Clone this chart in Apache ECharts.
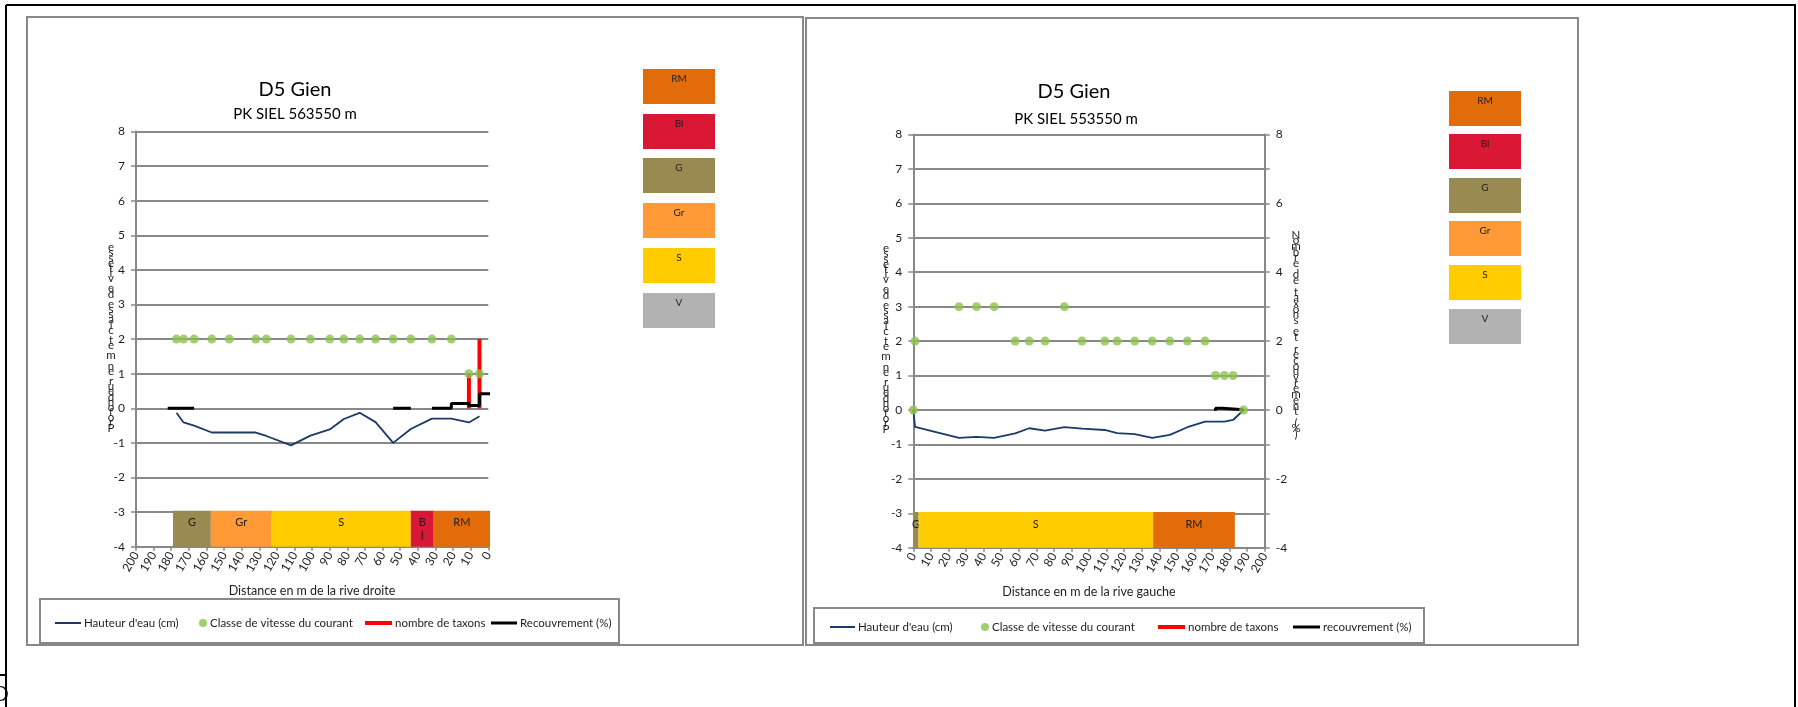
<!DOCTYPE html>
<html><head><meta charset="utf-8">
<script src="https://cdn.jsdelivr.net/npm/echarts@6/dist/echarts.min.js"></script>
<style>html,body{margin:0;padding:0;background:#fff;overflow:hidden}#c{width:1798px;height:707px}</style>
</head><body><div id="c"></div>
<script>
// ---------- DATA ----------
const chartTitles = ['D5 Gien', 'D5 Gien'];
const chartSubtitles = ['PK SIEL 563550 m', 'PK SIEL 553550 m'];
const xAxisNames = ['Distance en m de la rive droite', 'Distance en m de la rive gauche'];
const yAxisName = 'Profondeur en m et classe de vitesse';
const y2AxisName = 'Nombre de taxons et recouvrement (%)';
const seriesNames = ["Hauteur d'eau (cm)", 'Classe de vitesse du courant', 'nombre de taxons'];
const recouvrementNames = ['Recouvrement (%)', 'recouvrement (%)'];
const substrateNames = ['RM', 'Bl', 'G', 'Gr', 'S', 'V'];

// Left chart (rive droite)
const leftDist  = [177, 173, 167, 157, 147, 132, 126, 112, 101, 90, 82, 73, 64, 54, 44, 32, 21, 11, 5];
const leftDepth = [-0.13, -0.41, -0.5, -0.7, -0.7, -0.7, -0.8, -1.07, -0.79, -0.61, -0.31, -0.13, -0.4, -1.0, -0.6, -0.3, -0.3, -0.41, -0.23];
const leftSpeed = [2, 2, 2, 2, 2, 2, 2, 2, 2, 2, 2, 2, 2, 2, 2, 2, 2, 1, 1];
const leftTaxaX = [11, 11, null, 5, 5];
const leftTaxaY = [0, 1, null, 0, 2];
const leftCoverX = [182, 167, null, 54, 44, null, 32, 21, 21, 11, 11, 5, 5, -1];
const leftCoverY = [0, 0, null, 0, 0, null, 0, 0, 0.14, 0.14, 0.08, 0.08, 0.42, 0.42];
const leftBandStart = [179, 157.5, 123, 44, 31];
const leftBandEnd   = [157.5, 123, 44, 31, -1];
const leftBandLabel = ['G', 'Gr', 'S', 'B\nl', 'RM'];
const leftBandType  = ['G', 'Gr', 'S', 'Bl', 'RM'];

// Right chart (rive gauche)
const rightDist  = [0, 1, 26, 36, 46, 58, 66, 75, 86, 96, 109, 116, 126, 136, 146, 156, 166, 172, 177, 182, 188];
const rightDepth = [0, -0.49, -0.81, -0.78, -0.81, -0.68, -0.53, -0.6, -0.5, -0.54, -0.58, -0.67, -0.7, -0.81, -0.72, -0.5, -0.34, -0.34, -0.34, -0.29, 0];
const rightSpeed = [0, 2, 3, 3, 3, 2, 2, 2, 3, 2, 2, 2, 2, 2, 2, 2, 2, 1, 1, 1, 0];
const rightTaxaX = [];
const rightTaxaY = [];
const rightCoverX = [172, 172, 176, 177, 188];
const rightCoverY = [-0.02, 0.05, 0.05, 0.01, 0.01];
const rightBandStart = [0, 3, 136.5];
const rightBandEnd   = [3, 136.5, 183];
const rightBandLabel = ['G', 'S', 'RM'];
const rightBandType  = ['G', 'S', 'RM'];

// ---------- STYLE ----------
const FONT = 'Lato';
const substrateColor = { RM: '#E36C0A', Bl: '#DA1734', G: '#998A52', Gr: '#FF9A36', S: '#FFCC00', V: '#B2B2B2' };
const GRID_GRAY = '#888888';
const TXT = '#1e1e1e';

function pairs(xs, ys) { return xs.map((x, i) => x === null ? ['-', '-'] : [x, ys[i]]); }
function bands(s, e, l, t) { return s.map((v, i) => ({ value: [v, e[i]], label: l[i], type: t[i] })); }

const chart = echarts.init(document.getElementById('c'), null, { renderer: 'canvas' });

function xAxisCfg(grid, inverse) {
  return {
    type: 'value', gridIndex: grid, min: 0, max: 200, interval: 10, inverse: inverse,
    axisLine: { show: true, onZero: false, lineStyle: { color: GRID_GRAY, width: 2 } },
    axisTick: { show: true, length: 4, lineStyle: { color: GRID_GRAY, width: 1.5 } },
    axisLabel: { rotate: 60, margin: 6, fontSize: 12, color: TXT, fontFamily: FONT, showMinLabel: true, showMaxLabel: true },
    splitLine: { show: false }
  };
}
function yAxisCfg(grid, pos, split, evenOnly) {
  return {
    type: 'value', gridIndex: grid, min: -4, max: 8, interval: 1, position: pos,
    axisLine: { show: true, onZero: false, lineStyle: { color: GRID_GRAY, width: 2 } },
    axisTick: { show: true, length: 5, lineStyle: { color: GRID_GRAY, width: 1.5 } },
    axisLabel: { margin: 11, fontSize: 12, color: TXT, fontFamily: FONT,
      formatter: v => (evenOnly && Math.round(v) % 2 !== 0) ? '' : String(v) },
    splitLine: { show: split, lineStyle: { color: GRID_GRAY, width: 2 } }
  };
}

function bandSeries(xi, yi, data) {
  return {
    type: 'custom', xAxisIndex: xi, yAxisIndex: yi, clip: false, z: 1,
    encode: { x: [0, 1] },
    data: data,
    silent: true,
    renderItem: function (params, api) {
      const d = data[params.dataIndex];
      const p1 = api.coord([api.value(0), -2.96]);
      const p2 = api.coord([api.value(1), -4]);
      const x0 = Math.min(p1[0], p2[0]), w = Math.abs(p2[0] - p1[0]);
      return {
        type: 'group',
        children: [
          { type: 'rect', shape: { x: x0, y: p1[1], width: w, height: p2[1] - p1[1] }, style: { fill: substrateColor[d.type] } },
          { type: 'text', style: { text: d.label, x: x0 + w / 2, y: p1[1] + 5, align: 'center', verticalAlign: 'top',
              fontSize: 11, lineHeight: 14, fontFamily: FONT, fill: TXT } }
        ]
      };
    }
  };
}

function chartSeries(xi, yi, y2i, dist, depth, speed, taxX, taxY, covX, covY, covName, bandData) {
  return [
    bandSeries(xi, yi, bandData),
    { name: seriesNames[0], type: 'line', xAxisIndex: xi, yAxisIndex: yi, data: pairs(dist, depth),
      symbol: 'none', lineStyle: { color: '#1B3A66', width: 1.8 }, itemStyle: { color: '#1B3A66' }, z: 3 },
    { name: seriesNames[2], type: 'line', xAxisIndex: xi, yAxisIndex: y2i, data: pairs(taxX, taxY),
      symbol: 'none', connectNulls: false, lineStyle: { color: '#FF0000', width: 4 }, itemStyle: { color: '#FF0000' }, z: 4 },
    { name: covName, type: 'line', xAxisIndex: xi, yAxisIndex: y2i, data: pairs(covX, covY),
      symbol: 'none', connectNulls: false, lineStyle: { color: '#000', width: 3 }, itemStyle: { color: '#000' }, z: 5 },
    { name: seriesNames[1], type: 'scatter', xAxisIndex: xi, yAxisIndex: yi, data: pairs(dist, speed),
      symbol: 'circle', symbolSize: 9, itemStyle: { color: '#8FC04F' }, z: 6 }
  ];
}

function legendItem(name, left, top, icon, w, h, color) {
  return { data: [{ name: name, icon: icon, itemStyle: { color: color } }], left: left, top: top, orient: 'horizontal',
    itemWidth: w, itemHeight: h, padding: 0, selectedMode: false,
    textStyle: { fontSize: 11.5, color: TXT, fontFamily: FONT, lineHeight: 14, padding: [0, 0, 0, -2] } };
}

function stacked(str, reverse) {
  const chars = str.split('');
  return (reverse ? chars.reverse() : chars).join('\n');
}

const graphics = [
  // outer black frame
  { type: 'line', shape: { x1: 6, y1: 5, x2: 1796, y2: 5 }, style: { stroke: '#000', lineWidth: 2 } },
  { type: 'line', shape: { x1: 6, y1: 5, x2: 6, y2: 707 }, style: { stroke: '#000', lineWidth: 2 } },
  { type: 'line', shape: { x1: 1795, y1: 5, x2: 1795, y2: 707 }, style: { stroke: '#000', lineWidth: 2 } },
  { type: 'line', shape: { x1: 0, y1: 675, x2: 6, y2: 675 }, style: { stroke: '#000', lineWidth: 2 } },
  { type: 'text', style: { text: 'D', x: -7, y: 686, fontSize: 20, fontFamily: 'DejaVu Serif', fill: '#000' } },
  // chart boxes
  { type: 'rect', shape: { x: 27, y: 17, width: 776, height: 628 }, style: { fill: 'none', stroke: GRID_GRAY, lineWidth: 2 } },
  { type: 'rect', shape: { x: 806, y: 18, width: 772, height: 627 }, style: { fill: 'none', stroke: GRID_GRAY, lineWidth: 2 } },
  // legend boxes
  { type: 'rect', shape: { x: 40, y: 599, width: 579, height: 44 }, style: { fill: 'none', stroke: GRID_GRAY, lineWidth: 2 } },
  { type: 'rect', shape: { x: 814, y: 608, width: 610, height: 35 }, style: { fill: 'none', stroke: GRID_GRAY, lineWidth: 2 } },
  // titles
  { type: 'text', style: { text: chartTitles[0], x: 295, y: 90, align: 'center', verticalAlign: 'middle', fontSize: 20, fontFamily: FONT, fill: '#000' } },
  { type: 'text', style: { text: chartSubtitles[0], x: 295, y: 114, align: 'center', verticalAlign: 'middle', fontSize: 15, fontFamily: FONT, fill: '#000' } },
  { type: 'text', style: { text: chartTitles[1], x: 1074, y: 92, align: 'center', verticalAlign: 'middle', fontSize: 20, fontFamily: FONT, fill: '#000' } },
  { type: 'text', style: { text: chartSubtitles[1], x: 1076, y: 119, align: 'center', verticalAlign: 'middle', fontSize: 15, fontFamily: FONT, fill: '#000' } },
  // x axis names
  { type: 'text', style: { text: xAxisNames[0], x: 312, y: 591, align: 'center', verticalAlign: 'middle', fontSize: 12.5, fontFamily: FONT, fill: TXT } },
  { type: 'text', style: { text: xAxisNames[1], x: 1089, y: 592, align: 'center', verticalAlign: 'middle', fontSize: 12.5, fontFamily: FONT, fill: TXT } },
  // y axis names (stacked letters as in the reference)
  { type: 'text', style: { text: stacked(yAxisName, true), x: 111, y: 245, align: 'center', verticalAlign: 'top', fontSize: 11.5, lineHeight: 5.15, fontFamily: FONT, fill: TXT } },
  { type: 'text', style: { text: stacked(yAxisName, true), x: 886, y: 246, align: 'center', verticalAlign: 'top', fontSize: 11.5, lineHeight: 5.15, fontFamily: FONT, fill: TXT } },
  { type: 'text', style: { text: stacked(y2AxisName, false), x: 1296, y: 232, align: 'center', verticalAlign: 'top', fontSize: 11.5, lineHeight: 5.7, fontFamily: FONT, fill: TXT } }
];

// substrate swatches
const swatchLeftTops = [69, 114, 158, 203, 248, 293];
const swatchRightTops = [91, 134, 178, 221, 265, 309];
substrateNames.forEach((n, i) => {
  [[643, swatchLeftTops[i]], [1449, swatchRightTops[i]]].forEach(([x, y]) => {
    graphics.push({ type: 'rect', shape: { x: x, y: y, width: 72, height: 35 }, style: { fill: substrateColor[n] } });
    graphics.push({ type: 'text', style: { text: n, x: x + 36, y: y + 5, align: 'center', verticalAlign: 'top', fontSize: 10, fontFamily: FONT, fill: TXT } });
  });
});

const option = {
  backgroundColor: '#fff',
  animation: false,
  grid: [
    { left: 136, top: 131.5, width: 352.3, height: 415.2, containLabel: false },
    { left: 913.3, top: 134.4, width: 351.4, height: 413.4, containLabel: false }
  ],
  xAxis: [xAxisCfg(0, true), xAxisCfg(1, false)],
  yAxis: [yAxisCfg(0, 'left', true, false), yAxisCfg(1, 'left', true, false), yAxisCfg(1, 'right', false, true)],
  legend: [
    legendItem(seriesNames[0], 55, 616, 'rect', 26, 2, '#1B3A66'),
    legendItem(seriesNames[1], 199, 616, 'circle', 8, 8, '#8FC04F'),
    legendItem(seriesNames[2], 365, 616, 'rect', 27, 4, '#FF0000'),
    legendItem(recouvrementNames[0], 491, 616, 'rect', 26, 3, '#000'),
    legendItem(seriesNames[0], 830, 620, 'rect', 25, 2, '#1B3A66'),
    legendItem(seriesNames[1], 981, 620, 'circle', 8, 8, '#8FC04F'),
    legendItem(seriesNames[2], 1158, 620, 'rect', 27, 4, '#FF0000'),
    legendItem(recouvrementNames[1], 1293, 620, 'rect', 27, 3, '#000')
  ],
  series: [
    ...chartSeries(0, 0, 0, leftDist, leftDepth, leftSpeed, leftTaxaX, leftTaxaY, leftCoverX, leftCoverY, recouvrementNames[0], bands(leftBandStart, leftBandEnd, leftBandLabel, leftBandType)),
    ...chartSeries(1, 1, 2, rightDist, rightDepth, rightSpeed, rightTaxaX, rightTaxaY, rightCoverX, rightCoverY, recouvrementNames[1], bands(rightBandStart, rightBandEnd, rightBandLabel, rightBandType))
  ],
  graphic: graphics
};
chart.setOption(option);
</script>
</body></html>
